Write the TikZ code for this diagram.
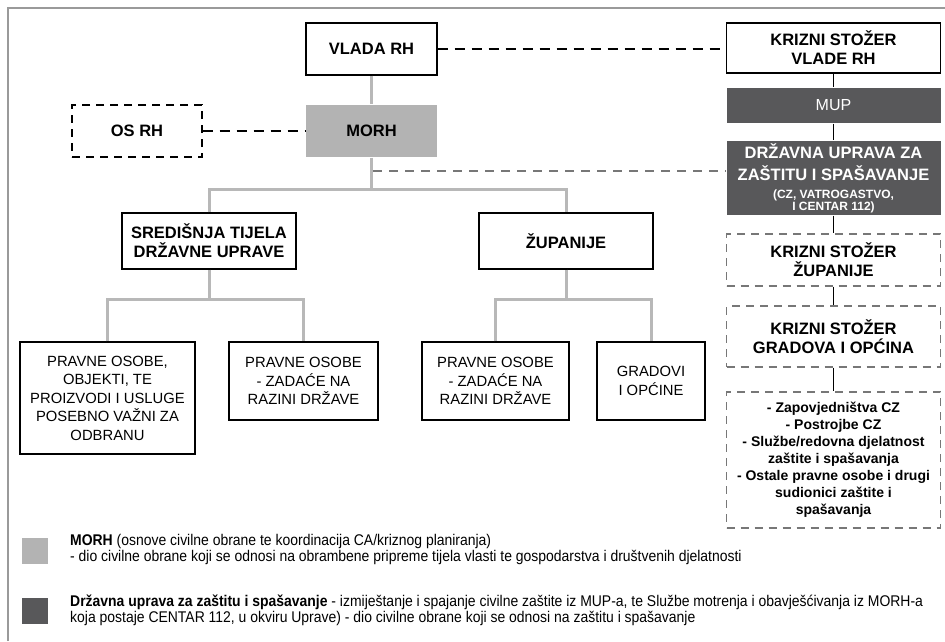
\documentclass[tikz,border=0pt]{standalone}
\usepackage{fontspec}
\setmainfont{Liberation Sans}
\newfontfamily\narrowfont[FakeStretch=0.9]{Liberation Sans}
\definecolor{morhgray}{HTML}{B3B3B3}
\definecolor{uzsgray}{HTML}{58585A}
\definecolor{linegray}{HTML}{B8B8B8}
\definecolor{dashgray}{HTML}{777777}
\definecolor{framegray}{HTML}{9A9A9A}
\begin{document}
\begin{tikzpicture}[x=1pt,y=-1pt,
    box/.style={draw=black,line width=1.4pt,fill=white,inner sep=0pt,align=center},
    dbox/.style={draw=dashgray,dash pattern=on 8pt off 6pt,line width=1.1pt,inner sep=0pt,align=center},
    head/.style={font=\fontsize{16.5}{19}\selectfont\bfseries},
    plain/.style={font=\fontsize{14.8}{18.5}\selectfont},
    tree/.style={draw=linegray,line width=3pt},
    link/.style={draw=black,dash pattern=on 10pt off 7pt,line width=1.7pt},
    glink/.style={draw=dashgray,dash pattern=on 9pt off 7pt,line width=1.4pt},
    legtext/.style={anchor=west,align=left,inner sep=0pt,font=\narrowfont\fontsize{15.5}{16}\selectfont}]
        \useasboundingbox (0,0) rectangle (945,641);
        \draw[framegray,line width=2pt] (8,641) -- (8,8) -- (945,8);

        % left part
        \node[box,head,minimum width=131pt,minimum height=52pt] (vlada) at (371.5,49) {VLADA RH};
        \node[box,head,draw=none,fill=morhgray,minimum width=131pt,minimum height=52pt] (morh) at (371.5,131) {MORH};
        \node[box,head,dash pattern=on 8pt off 6pt,minimum width=130pt,minimum height=52pt] (osrh) at (137,131) {OS RH};
        \node[box,head,minimum width=174pt,minimum height=56pt] (sdu) at (209,241) {SREDIŠNJA TIJELA\\DRŽAVNE UPRAVE};
        \node[box,head,minimum width=174pt,minimum height=56pt] (zup) at (566,241) {ŽUPANIJE};
        \node[box,plain,minimum width=175pt,minimum height=112pt] (po1) at (107.5,398) {PRAVNE OSOBE,\\OBJEKTI, TE\\PROIZVODI I USLUGE\\POSEBNO VAŽNI ZA\\ODBRANU};
        \node[box,plain,minimum width=149pt,minimum height=78pt] (po2) at (303.5,381) {PRAVNE OSOBE\\- ZADAĆE NA\\RAZINI DRŽAVE};
        \node[box,plain,minimum width=147pt,minimum height=78pt] (po3) at (495.5,381) {PRAVNE OSOBE\\- ZADAĆE NA\\RAZINI DRŽAVE};
        \node[box,plain,minimum width=108pt,minimum height=78pt] (grad) at (651,381) {GRADOVI\\I OPĆINE};

        % right column
        \node[box,head,line width=1.2pt,minimum width=214pt,minimum height=50pt] (ksvlade) at (833.5,48) {KRIZNI STOŽER\\VLADE RH};
        \node[box,draw=none,fill=uzsgray,text=white,minimum width=214pt,minimum height=35pt,font=\fontsize{16}{19}\selectfont] (mup) at (833.5,105.5) {MUP};
        \node[box,draw=none,fill=uzsgray,text=white,minimum width=214pt,minimum height=74pt,font=\fontsize{16.5}{22}\selectfont\bfseries] (duzs) at (833.5,178) {DRŽAVNA UPRAVA ZA\\ZAŠTITU I SPAŠAVANJE\\[-4pt]{\fontsize{12}{12}\selectfont (CZ, VATROGASTVO,}\\[-10pt]{\fontsize{12}{12}\selectfont I CENTAR 112)}};
        \node[dbox,head,minimum width=214pt,minimum height=52pt] (kszup) at (833.5,260) {KRIZNI STOŽER\\ŽUPANIJE};
        \node[dbox,head,minimum width=214pt,minimum height=61pt] (ksgrad) at (833.5,336.5) {KRIZNI STOŽER\\GRADOVA I OPĆINA};
        \node[dbox,minimum width=214pt,minimum height=136pt,font=\fontsize{14}{17}\selectfont\bfseries] (ostali) at (833.5,460) {- Zapovjedništva CZ\\- Postrojbe CZ\\- Službe/redovna djelatnost\\zaštite i spašavanja\\- Ostale pravne osobe i drugi\\sudionici zaštite i\\spašavanja};

        % tree lines
        \coordinate (hub) at (371.5,189);
        \coordinate (j1) at (209,299);
        \coordinate (j2) at (566,299);
        \draw[tree] (vlada) -- (morh);
        \draw[tree] (morh) -- (hub);
        \draw[tree] (sdu.north) |- (hub) -| (zup.north);
        \draw[tree] (sdu) -- (j1);
        \draw[tree] (po1.north) |- (j1) -| (po2.north);
        \draw[tree] (zup) -- (j2);
        \draw[tree] (po3.north) |- (j2) -| (grad.north);

        \draw[black,line width=1.5pt] (ksvlade) -- (mup);
        \draw[black,line width=1.5pt] (mup) -- (duzs);
        \draw[black,line width=1.5pt] (duzs) -- (kszup);
        \draw[black,line width=1.5pt] (kszup) -- (ksgrad);
        \draw[black,line width=1.5pt] (ksgrad) -- (ostali);

        % dashed links
        \path[link] (vlada.east) -- (vlada.east -| ksvlade.west);
        \path[link] (osrh) -- (morh);
        \coordinate (tap) at (373,171);
        \path[glink] (tap) -- (tap -| duzs.west);

        % legend
        \node[fill=morhgray,minimum size=26pt,inner sep=0pt] (legmorh) at (35,551) {};
        \node[fill=uzsgray,minimum size=26pt,inner sep=0pt] (leguzs) at (35,611) {};
        \node[legtext] (txtmorh) at (70,549) {\textbf{MORH} (osnove civilne obrane te koordinacija CA/kriznog planiranja)\\- dio civilne obrane koji se odnosi na obrambene pripreme tijela vlasti te gospodarstva i društvenih djelatnosti};
        \node[legtext] (txtuzs) at (70,610) {\textbf{Državna uprava za zaštitu i spašavanje} - izmiještanje i spajanje civilne zaštite iz MUP-a, te Službe motrenja i obavješćivanja iz MORH-a\\koja postaje CENTAR 112, u okviru Uprave) - dio civilne obrane koji se odnosi na zaštitu i spašavanje};
\end{tikzpicture}
\end{document}
